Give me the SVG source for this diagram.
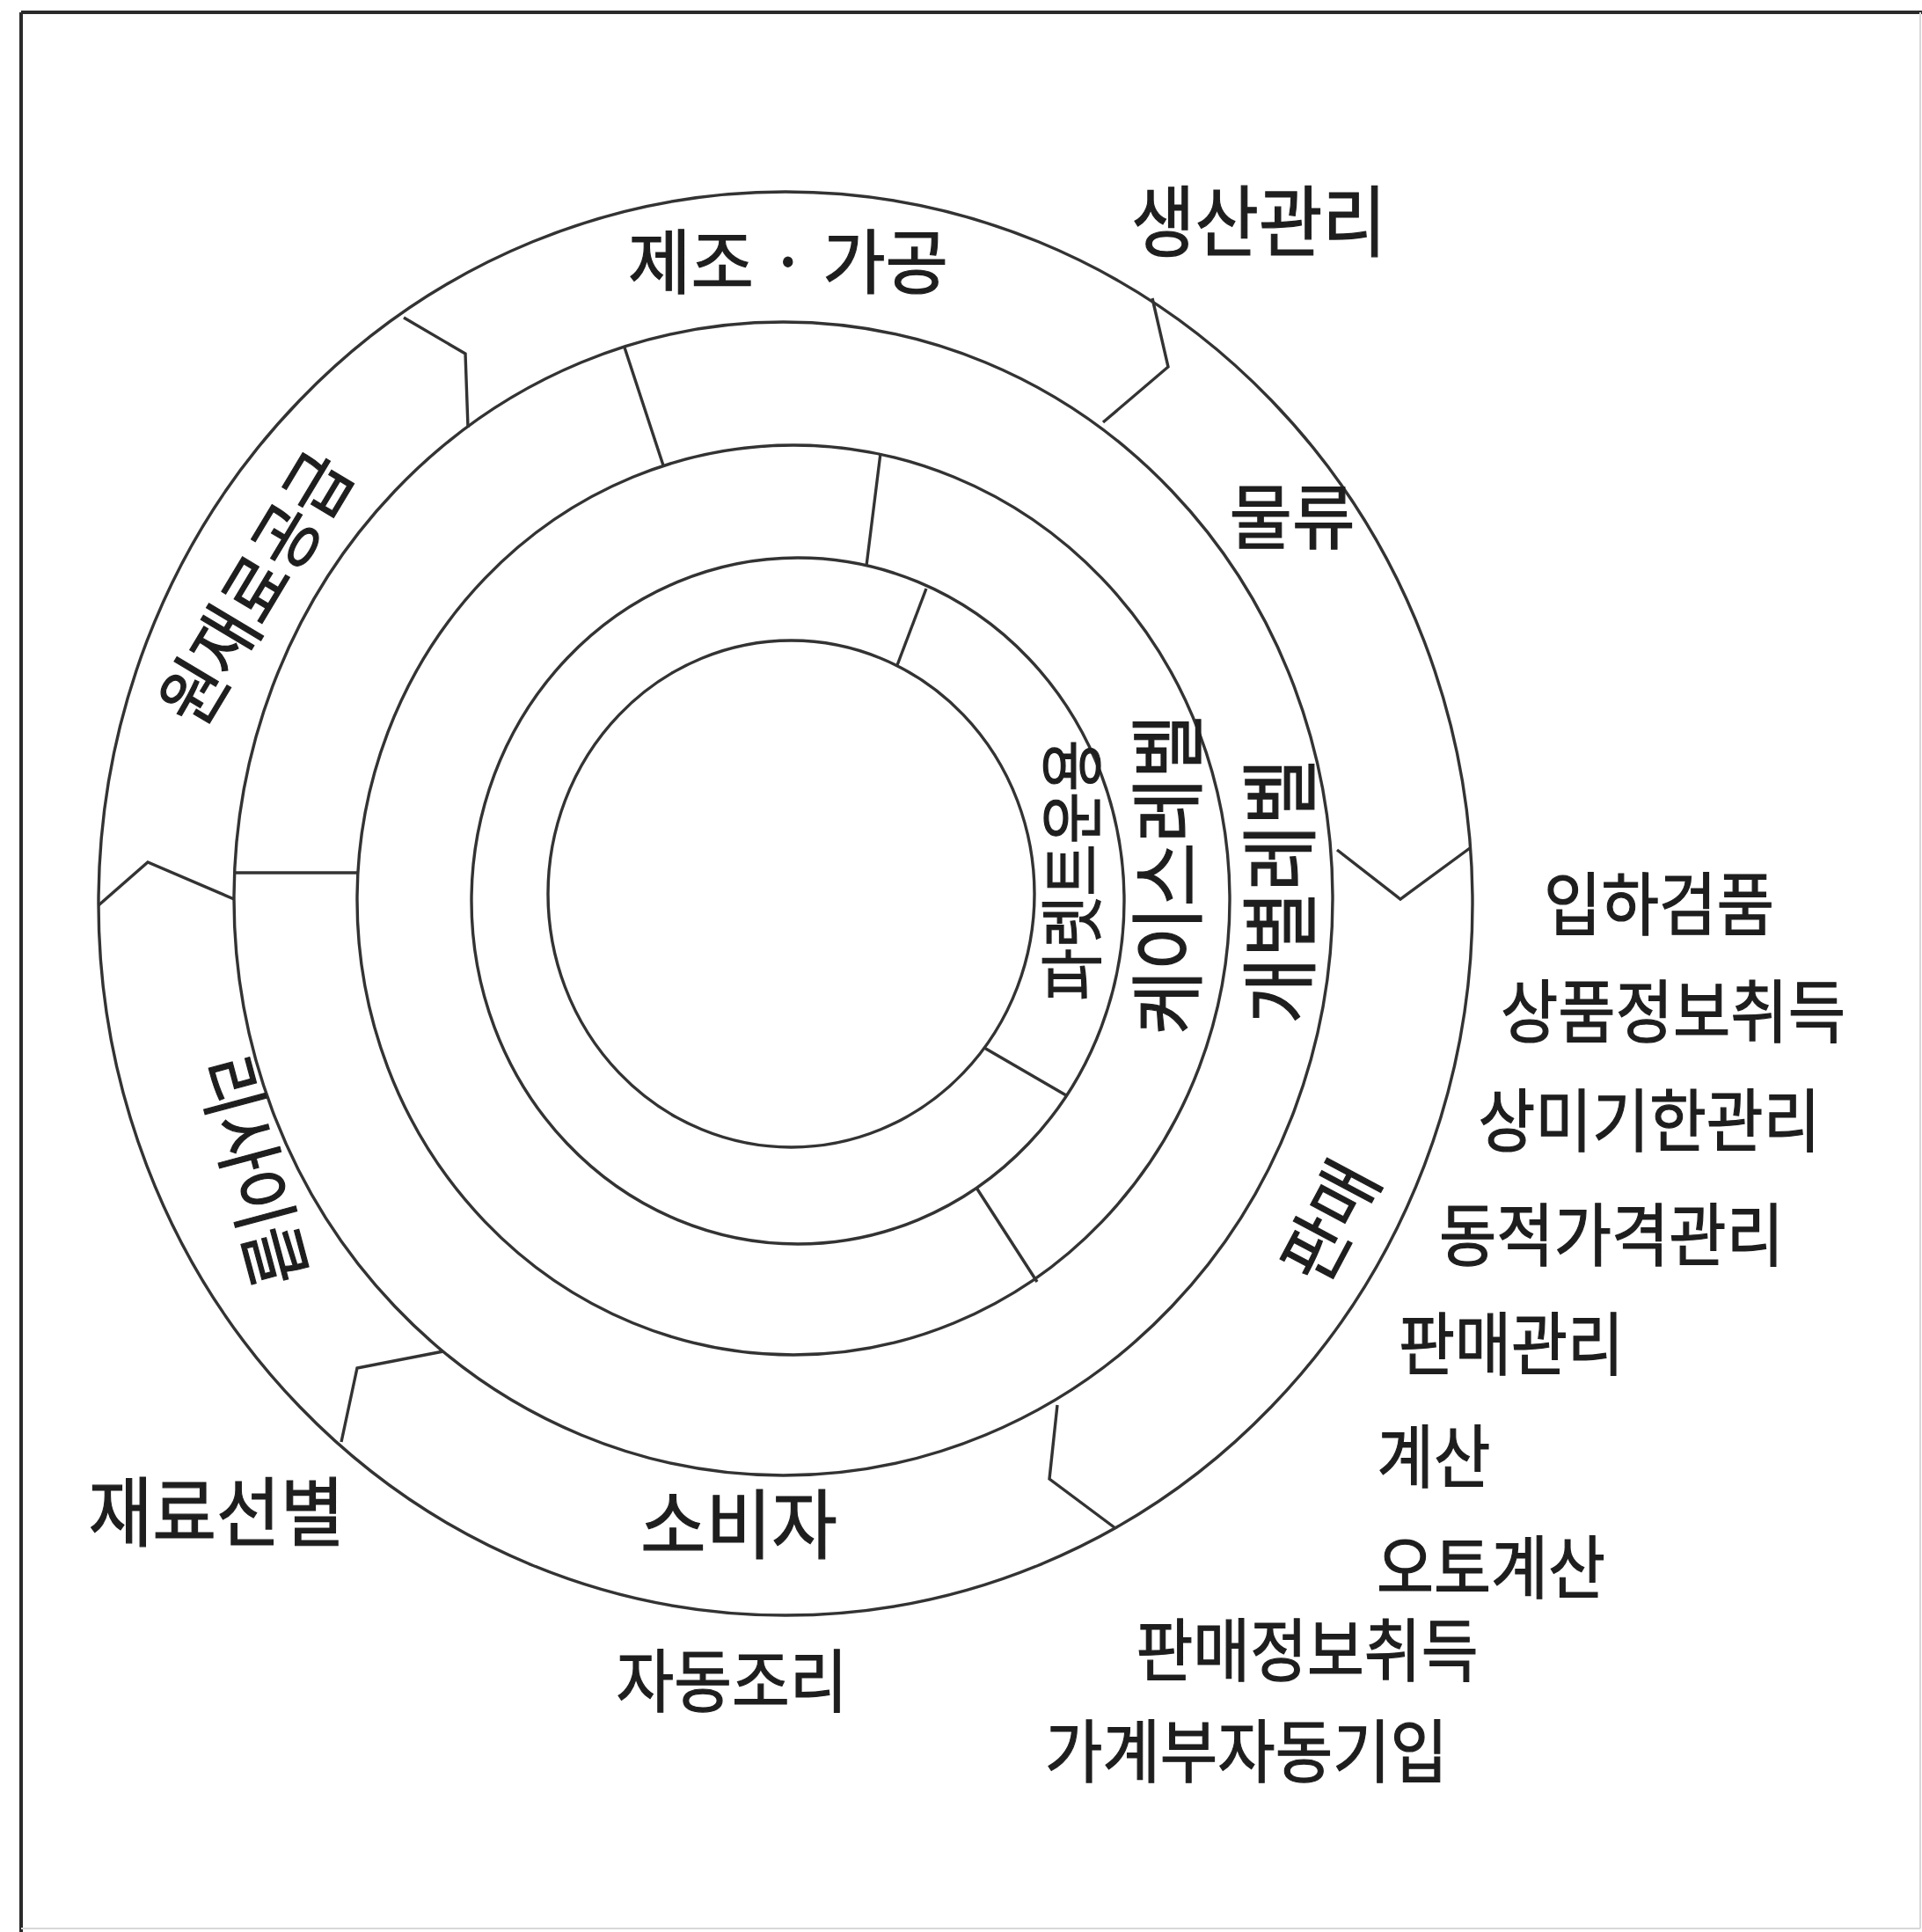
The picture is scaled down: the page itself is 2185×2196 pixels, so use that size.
<svg xmlns="http://www.w3.org/2000/svg" width="2185" height="2196" viewBox="0 0 2185 2196">
<defs>
<style>
.ln{fill:none;stroke:#333;stroke-width:3.4;stroke-linejoin:miter}
.fr{fill:none;stroke:#2a2a2a;stroke-width:4}
.ff{fill:none;stroke:#d8d8d8;stroke-width:2}
.t{font-family:"Noto Sans CJK KR","Noto Sans",sans-serif;fill:#1e1e1e;stroke:#1e1e1e;stroke-width:1.2;text-anchor:middle}
</style>
</defs>
<rect x="0" y="0" width="2185" height="2196" fill="#ffffff"/>
<g id="frame">
<line class="fr" x1="24" y1="14" x2="2185" y2="14"/>
<line class="fr" x1="24" y1="14" x2="24" y2="2196"/>
<line class="ff" x1="2183" y1="14" x2="2183" y2="2192"/>
<line class="ff" x1="24" y1="2192" x2="2183" y2="2192"/>
</g>
<g id="rings">
<ellipse class="ln" cx="893" cy="1027" rx="781" ry="809"/>
<ellipse class="ln" cx="890.5" cy="1021.5" rx="624.5" ry="655.5"/>
<ellipse class="ln" cx="902" cy="1023" rx="496" ry="517"/>
<ellipse class="ln" cx="907" cy="1024" rx="371" ry="390"/>
<ellipse class="ln" cx="899.5" cy="1016" rx="276.5" ry="288"/>
</g>
<g id="connectors">
<polyline class="ln" points="459,361 529,402 532,486"/>
<polyline class="ln" points="1310,339 1328,417 1254,480"/>
<polyline class="ln" points="1520,966 1592,1022 1671,964"/>
<polyline class="ln" points="1202,1597 1193,1681 1268,1737"/>
<polyline class="ln" points="504,1536 406,1555 388,1639"/>
<polyline class="ln" points="112,1029 168,980 266,1022"/>
<line class="ln" x1="710" y1="395" x2="754" y2="529"/>
<line class="ln" x1="267" y1="992" x2="406" y2="992"/>
<line class="ln" x1="1001" y1="515" x2="985" y2="643"/>
<line class="ln" x1="1110" y1="1350" x2="1179" y2="1457"/>
<line class="ln" x1="1053" y1="669" x2="1020" y2="756"/>
<line class="ln" x1="1119" y1="1191" x2="1212" y2="1245"/>
</g>
<g id="ring-labels">
<g id="n-manufacture"><text class="t" x="896" y="327" font-size="80" textLength="364" lengthAdjust="spacingAndGlyphs">제조 · 가공</text></g>
<g id="n-logistics"><text class="t" x="1469" y="617" font-size="80" textLength="143" lengthAdjust="spacingAndGlyphs">물류</text></g>
<g id="n-consumer"><text class="t" x="840" y="1765" font-size="86" textLength="224" lengthAdjust="spacingAndGlyphs">소비자</text></g>
<g id="n-material" transform="translate(291,669) rotate(-59)"><text class="t" x="0" y="29" font-size="80" textLength="343" lengthAdjust="spacingAndGlyphs">원재료공급</text></g>
<g id="n-recycle" transform="translate(287,1331) rotate(75)"><text class="t" x="0" y="29" font-size="80" textLength="266" lengthAdjust="spacingAndGlyphs">리사이클</text></g>
<g id="n-sales" transform="translate(1513,1389) rotate(-62)"><text class="t" x="0" y="28" font-size="80" textLength="140" lengthAdjust="spacingAndGlyphs">판매</text></g>
<g id="n-pallet" transform="translate(1219,989) rotate(-90)"><text class="t" x="0" y="26" font-size="72" textLength="297" lengthAdjust="spacingAndGlyphs">파렛트운용</text></g>
<g id="n-case" transform="translate(1328,994) rotate(-90)"><text class="t" x="0" y="31" font-size="85" textLength="364" lengthAdjust="spacingAndGlyphs">케이스레벨</text></g>
<g id="n-item" transform="translate(1455,1013) rotate(-90)"><text class="t" x="0" y="32" font-size="88" textLength="301" lengthAdjust="spacingAndGlyphs">개별레벨</text></g>
</g>
<g id="side-labels">
<g id="n-prod"><text class="t" x="1431" y="284" font-size="88" textLength="290" lengthAdjust="spacingAndGlyphs">생산관리</text></g>
<g id="n-receive"><text class="t" x="1886" y="1057" font-size="78" textLength="262" lengthAdjust="spacingAndGlyphs">입하검품</text></g>
<g id="n-iteminfo"><text class="t" x="1902" y="1179" font-size="78" textLength="392" lengthAdjust="spacingAndGlyphs">상품정보취득</text></g>
<g id="n-expiry"><text class="t" x="1875" y="1303" font-size="78" textLength="389" lengthAdjust="spacingAndGlyphs">상미기한관리</text></g>
<g id="n-price"><text class="t" x="1832" y="1433" font-size="78" textLength="392" lengthAdjust="spacingAndGlyphs">동적가격관리</text></g>
<g id="n-salesmgmt"><text class="t" x="1718" y="1557" font-size="78" textLength="256" lengthAdjust="spacingAndGlyphs">판매관리</text></g>
<g id="n-checkout"><text class="t" x="1630" y="1685" font-size="78" textLength="129" lengthAdjust="spacingAndGlyphs">계산</text></g>
<g id="n-autocheckout"><text class="t" x="1695" y="1811" font-size="78" textLength="260" lengthAdjust="spacingAndGlyphs">오토계산</text></g>
<g id="n-salesinfo"><text class="t" x="1486" y="1905" font-size="78" textLength="389" lengthAdjust="spacingAndGlyphs">판매정보취득</text></g>
<g id="n-budget"><text class="t" x="1417" y="2020" font-size="78" textLength="458" lengthAdjust="spacingAndGlyphs">가계부자동기입</text></g>
<g id="n-cook"><text class="t" x="832" y="1940" font-size="78" textLength="263" lengthAdjust="spacingAndGlyphs">자동조리</text></g>
<g id="n-sort"><text class="t" x="246" y="1751" font-size="86" textLength="291" lengthAdjust="spacingAndGlyphs">재료선별</text></g>
</g>
</svg>
